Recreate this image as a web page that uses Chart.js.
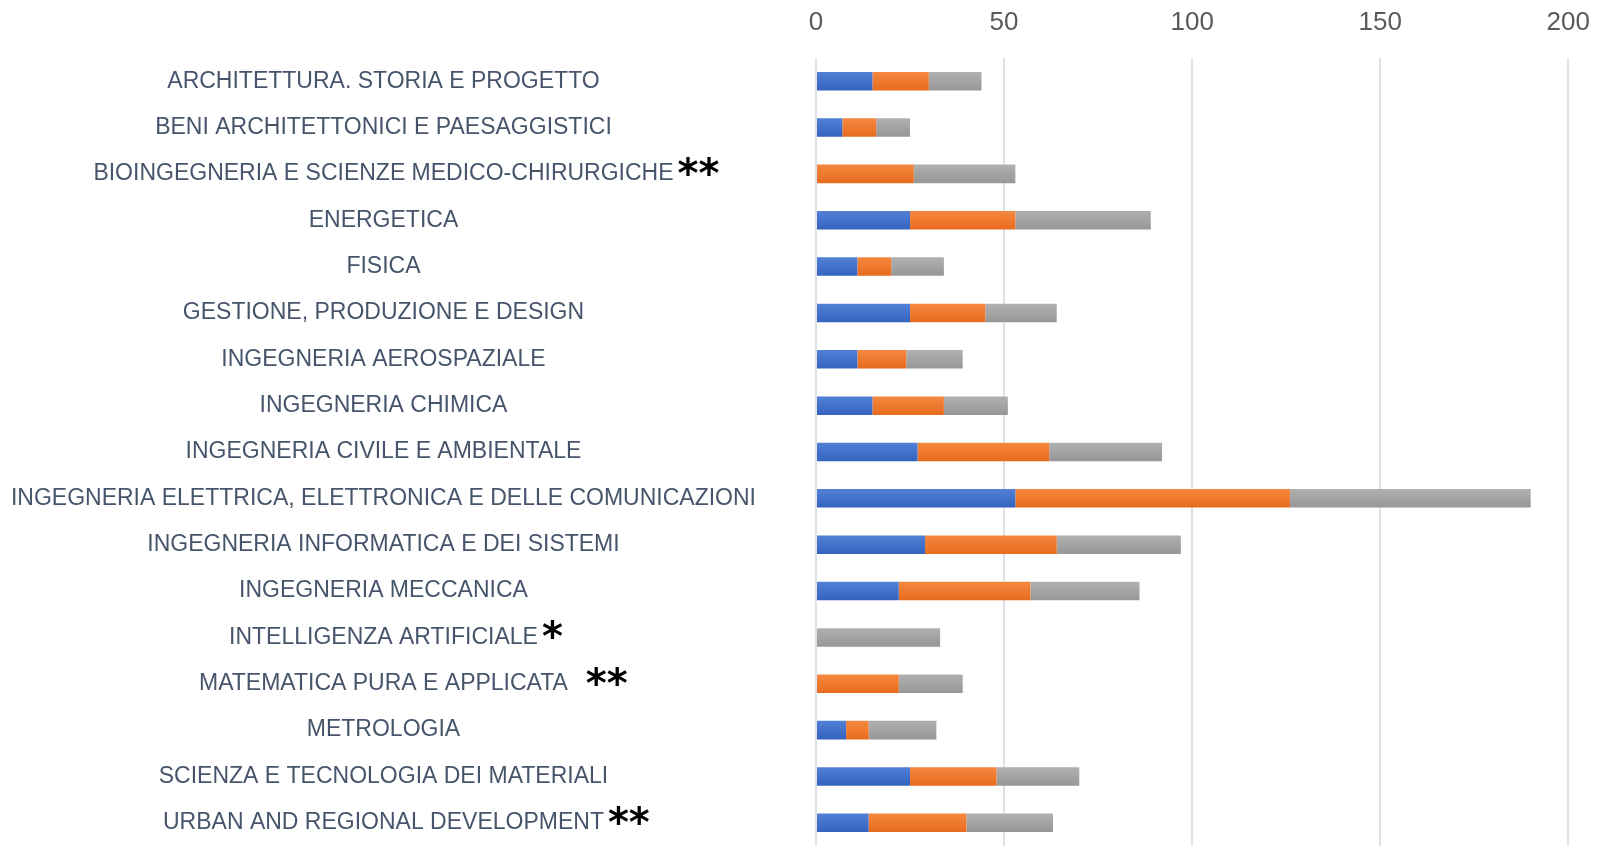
<!DOCTYPE html>
<html>
<head>
<meta charset="utf-8">
<script src="https://cdn.jsdelivr.net/npm/chart.js@4/dist/chart.umd.min.js"></script>
<style>
  html, body { margin: 0; padding: 0; background: #ffffff; }
  #wrap { width: 1610px; height: 846px; }
</style>
</head>
<body>
<div id="wrap"><canvas id="chart" width="1610" height="846"></canvas></div>
<script>
const courses = [
    'ARCHITETTURA. STORIA E PROGETTO',
    'BENI ARCHITETTONICI E PAESAGGISTICI',
    'BIOINGEGNERIA E SCIENZE MEDICO-CHIRURGICHE',
    'ENERGETICA',
    'FISICA',
    'GESTIONE, PRODUZIONE E DESIGN',
    'INGEGNERIA AEROSPAZIALE',
    'INGEGNERIA CHIMICA',
    'INGEGNERIA CIVILE E AMBIENTALE',
    'INGEGNERIA ELETTRICA, ELETTRONICA E DELLE COMUNICAZIONI',
    'INGEGNERIA INFORMATICA E DEI SISTEMI',
    'INGEGNERIA MECCANICA',
    'INTELLIGENZA ARTIFICIALE',
    'MATEMATICA PURA E APPLICATA',
    'METROLOGIA',
    'SCIENZA E TECNOLOGIA DEI MATERIALI',
    'URBAN AND REGIONAL DEVELOPMENT'
];
// asterischi dopo le etichette
const notes = ['', '', '**', '', '', '', '', '', '', '', '', '', '*', ' **', '', '', '**'];

const series1 = [15, 7, 0, 25, 11, 25, 11, 15, 27, 53, 29, 22, 0, 0, 8, 25, 14];
const series2 = [15, 9, 26, 28, 9, 20, 13, 19, 35, 73, 35, 35, 0, 22, 6, 23, 26];
const series3 = [14, 9, 27, 36, 14, 19, 15, 17, 30, 64, 33, 29, 33, 17, 18, 22, 23];
const xTicks = [0, 50, 100, 150, 200];

// colori (alto, basso) per la sfumatura delle barre
const baseColors = ['#4472c4', '#ed7d31', '#a5a5a5'];
const topColors = ['#5180d5', '#f4883f', '#b0b0b0'];
const bottomColors = ['#3463bf', '#e86b1e', '#979797'];

const labelFont = { family: "'Liberation Sans', Arial, sans-serif", size: 23 };
const labelColor = '#46556b';
const axisWidth = 816;
const axisHeight = 58;
const barPct = 0.4;

const barGradient = (d) => (c) => {
    const yScale = c.chart.scales.y;
    if (!yScale || c.dataIndex === undefined || !yScale.height) return baseColors[d];
    const y = yScale.getPixelForValue(c.dataIndex);
    const half = yScale.height / courses.length * barPct / 2;
    const grad = c.chart.ctx.createLinearGradient(0, y - half, 0, y + half);
    grad.addColorStop(0, topColors[d]);
    grad.addColorStop(1, bottomColors[d]);
    return grad;
};

const notesPlugin = {
    id: 'notes',
    afterDraw(chart) {
        const yScale = chart.scales.y;
        const ctx = chart.ctx;
        const padding = yScale.options.ticks.padding;
        ctx.save();
        ctx.font = `${labelFont.size}px ${labelFont.family}`;
        const widest = Math.max(...courses.map(c => ctx.measureText(c).width));
        const center = yScale.right - padding - widest / 2;
        courses.forEach((course, i) => {
            if (!notes[i]) return;
            ctx.font = `${labelFont.size}px ${labelFont.family}`;
            const w = ctx.measureText(course).width;
            const y = yScale.getPixelForTick(i) - 8;
            ctx.font = "bold 40px 'DejaVu Sans', sans-serif";
            const m = ctx.measureText('*');
            const baseline = y - (m.actualBoundingBoxDescent - m.actualBoundingBoxAscent) / 2;
            ctx.fillStyle = '#000000';
            ctx.textAlign = 'left';
            ctx.textBaseline = 'alphabetic';
            ctx.fillText(notes[i], center + w / 2 - 4, baseline);
        });
        ctx.restore();
    }
};

const ctx = document.getElementById('chart');

const chart = new Chart(ctx, {
    type: 'bar',
    data: {
        labels: courses,
        datasets: [
            { label: 'Serie 1', data: series1, backgroundColor: barGradient(0) },
            { label: 'Serie 2', data: series2, backgroundColor: barGradient(1) },
            { label: 'Serie 3', data: series3, backgroundColor: barGradient(2) }
        ]
    },
    options: {
        indexAxis: 'y',
        responsive: false,
        animation: false,
        barPercentage: barPct,
        categoryPercentage: 1,
        layout: { padding: { left: 0, right: 26, top: 0, bottom: 0 } },
        plugins: {
            legend: { display: false },
            tooltip: { enabled: false }
        },
        scales: {
            x: {
                position: 'top',
                stacked: true,
                min: 0,
                max: 200,
                afterBuildTicks: (axis) => {
                    axis.ticks = xTicks.map(v => ({ value: v }));
                },
                afterFit: (scale) => {
                    scale.height = axisHeight;
                },
                grid: { color: '#dde2ea', lineWidth: 2, drawTicks: false },
                border: { display: false },
                ticks: {
                    color: '#595959',
                    font: { family: "'Liberation Sans', Arial, sans-serif", size: 26 },
                    padding: 20
                }
            },
            y: {
                stacked: true,
                afterFit: (scale) => {
                    scale.width = axisWidth;
                    scale.paddingTop = 0;
                    scale.paddingBottom = 0;
                },
                grid: { display: false },
                border: { display: false },
                ticks: {
                    crossAlign: 'center',
                    color: labelColor,
                    font: labelFont,
                    padding: 52,
                    autoSkip: false
                }
            }
        }
    },
    plugins: [notesPlugin]
});
</script>
</body>
</html>
